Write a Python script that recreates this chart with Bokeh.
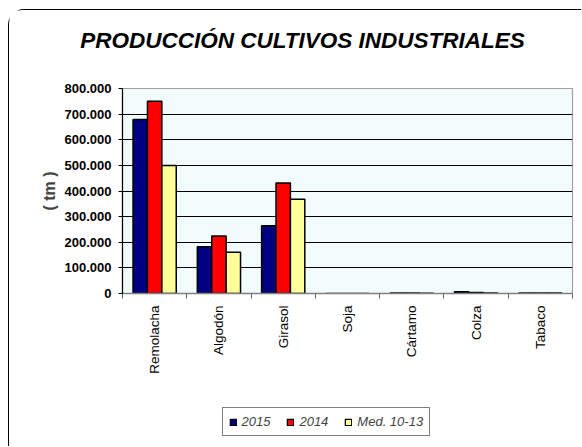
import numpy as np
from bokeh.plotting import figure
from bokeh.models import (ColumnDataSource, FixedTicker, Legend, LegendItem, Label, Column)
from bokeh.transform import dodge
from bokeh.embed import file_html
from bokeh.resources import INLINE

title_text = "PRODUCCIÓN CULTIVOS INDUSTRIALES"
categories = ["Remolacha", "Algodón", "Girasol", "Soja", "Cártamo", "Colza", "Tabaco"]
series_names = ["2015", "2014", "Med. 10-13"]
v2015 = [679000, 182000, 264000, 300, 1500, 6500, 1800]
v2014 = [750000, 224000, 431000, 200, 1500, 3500, 1800]
vmed = [500000, 161000, 368000, 400, 1200, 2000, 1600]
colors = ["#000080", "#FF0000", "#FFFF99"]
y_ticks = [0, 100000, 200000, 300000, 400000, 500000, 600000, 700000, 800000]
y_tick_labels = ["0", "100.000", "200.000", "300.000", "400.000", "500.000", "600.000", "700.000", "800.000"]
y_label = "( tm )"

FONT = "Liberation Sans"
W = 572

# ---------- title strip ----------
pt = figure(width=W, height=62, output_backend="svg", toolbar_location=None,
            x_axis_type=None, y_axis_type=None, title_location=None,
            x_range=(0, 1), y_range=(0, 1),
            min_border=0, min_border_left=0, min_border_right=0, min_border_top=0, min_border_bottom=0)
pt.frame_align = False
pt.outline_line_color = None
pt.grid.visible = False
pt.background_fill_color = "white"
pt.border_fill_color = "white"
pt.add_layout(Label(x=293, y=32.5, x_units="screen", y_units="screen", text=title_text,
                    text_font=FONT, text_font_style="bold italic", text_font_size="22.5px",
                    text_align="center", text_baseline="alphabetic", text_color="black"))

# ---------- main chart ----------
xc = [i + 0.5 for i in range(len(categories))]
src = ColumnDataSource(dict(x=xc, s2015=v2015, s2014=v2014, smed=vmed, cat=categories))

p = figure(width=W, height=328, output_backend="svg", toolbar_location=None,
           title_location=None,
           x_range=(0, len(categories)), y_range=(0, 800000),
           min_border_left=113, min_border_right=9, min_border_top=16, min_border_bottom=107)
p.frame_align = False
p.background_fill_color = "#F2FCFC"
p.border_fill_color = "white"
p.outline_line_color = "#A0A0A0"
p.outline_line_width = 1.2

bw = 0.224
offs = [-bw, 0.0, bw]
cols = ["s2015", "s2014", "smed"]
for c, o, col in zip(cols, offs, colors):
    p.vbar(x=dodge("x", o), top=c, width=bw, bottom=0, source=src,
           fill_color=col, line_color="black", line_width=1.5)

yax = p.yaxis[0]
yax.ticker = FixedTicker(ticks=y_ticks)
yax.major_label_overrides = {t: l for t, l in zip(y_ticks, y_tick_labels)}
yax.major_label_text_font = FONT
yax.major_label_text_font_style = "bold"
yax.major_label_text_font_size = "13px"
yax.major_label_text_color = "black"
yax.major_label_standoff = 7
yax.major_tick_out = 4
yax.major_tick_in = 0
yax.minor_tick_line_color = None
yax.axis_line_color = "black"
yax.axis_line_width = 1.2
yax.major_tick_line_color = "black"
yax.axis_label = y_label
yax.axis_label_text_font = FONT
yax.axis_label_text_font_style = "bold"
yax.axis_label_text_font_size = "16px"
yax.axis_label_standoff = 4

xax = p.xaxis[0]
xax.ticker = FixedTicker(ticks=xc, minor_ticks=list(range(len(categories) + 1)))
xax.major_label_overrides = {t: l for t, l in zip(xc, categories)}
xax.major_label_orientation = np.pi / 2
xax.major_label_text_font = FONT
xax.major_label_text_font_style = "normal"
xax.major_label_text_font_size = "13.5px"
xax.major_label_text_color = "black"
xax.major_label_standoff = 6
xax.major_tick_line_color = None
xax.minor_tick_out = 5
xax.minor_tick_in = 0
xax.minor_tick_line_color = "#606060"
xax.axis_line_color = "#808080"
xax.axis_line_width = 1.5

p.xgrid.grid_line_color = None
p.ygrid.ticker = FixedTicker(ticks=y_ticks[1:-1])
p.ygrid.grid_line_color = "black"
p.ygrid.grid_line_width = 1

# ---------- legend strip ----------
pl = figure(width=W, height=46, output_backend="svg", toolbar_location=None,
            x_axis_type=None, y_axis_type=None, title_location=None,
            x_range=(0, 1), y_range=(0, 1),
            min_border=0, min_border_left=0, min_border_right=0, min_border_top=0, min_border_bottom=0)
pl.frame_align = False
pl.outline_line_color = None
pl.grid.visible = False
pl.background_fill_color = "white"
pl.border_fill_color = "white"
# legend swatches: one zero-height bar each, placed outside the strip's visible range
leg_renderers = [pl.vbar(x=[5], top=[0], width=0.1, fill_color=col, line_color="black", line_width=1.2)
                 for col in colors]
legend = Legend(items=[LegendItem(label=n, renderers=[r], index=0) for n, r in zip(series_names, leg_renderers)],
                orientation="horizontal", location=(212.5, 10))
legend.label_text_font = FONT
legend.label_text_font_style = "italic"
legend.label_text_font_size = "13px"
legend.glyph_width = 8
legend.glyph_height = 8
legend.label_standoff = 5
legend.spacing = 16
legend.padding = 6
legend.margin = 0
legend.label_height = 15
legend.border_line_color = "black"
legend.border_line_width = 1
legend.background_fill_color = "white"
legend.background_fill_alpha = 1
pl.add_layout(legend, "center")

layout = Column(children=[pt, p, pl], spacing=0,
                styles={"border-left": "1.5px solid black", "border-top": "1.5px solid black",
                        "border-top-left-radius": "16px", "margin-left": "8px", "margin-top": "9px"})

open("out.html", "w").write(file_html(layout, INLINE))
